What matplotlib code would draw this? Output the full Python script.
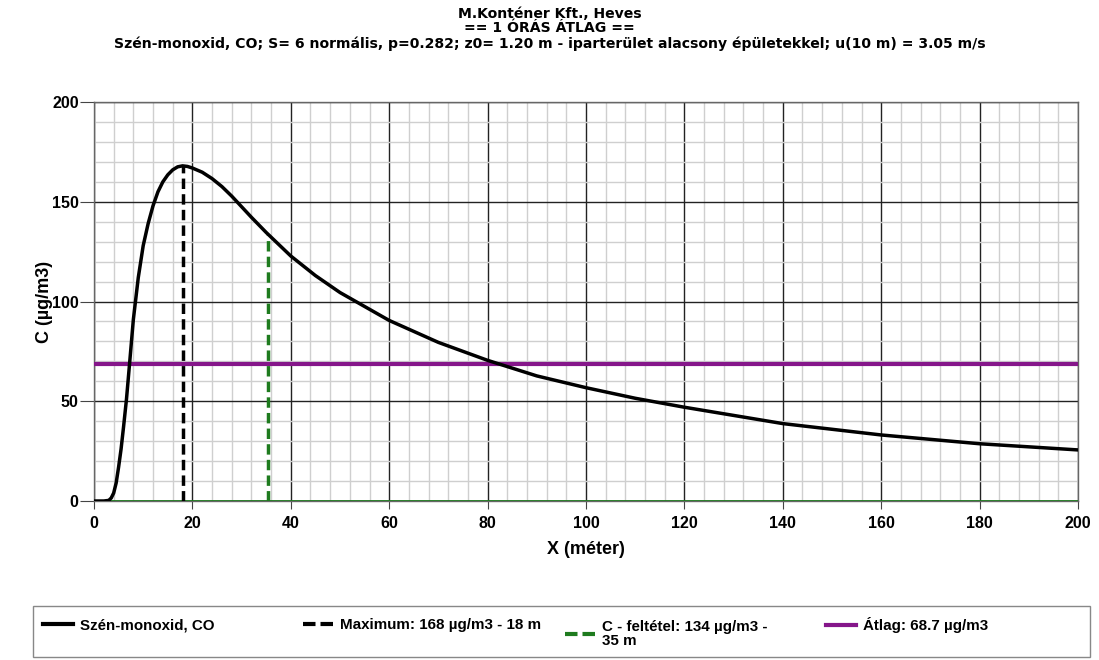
import numpy as np
import matplotlib.pyplot as plt
from matplotlib.lines import Line2D
from matplotlib.patches import Rectangle

plt.rcParams['font.family'] = ['Liberation Sans', 'DejaVu Sans']
plt.rcParams['font.weight'] = 'bold'

# concentration curve
x_m = [0, 2, 3, 3.5, 4, 4.5, 5, 5.5, 6, 6.6, 7.2, 8, 9, 10, 11, 12, 13, 14, 15, 16, 17, 18,
       19, 20, 22, 24, 26, 28, 30, 32, 35, 40, 45, 50, 55, 60, 70, 80, 90, 100, 110, 120,
       140, 160, 180, 200]
c_ug = [0, 0, 0.3, 1.5, 4, 9, 17, 26, 37, 51, 68, 91, 112, 128, 139, 148, 155, 160, 163.5, 166, 167.5, 168,
        167.7, 166.9, 164.8, 161.6, 157.6, 152.8, 147.5, 142.2, 134.6, 122.8, 113, 104.5, 97.5, 90.5, 79.5, 70.5,
        62.7, 56.8, 51.5, 47, 38.8, 33.1, 28.7, 25.6]

x_max, c_max = 18, 168
x_felt, c_felt = 35.3, 134
c_atlag = 68.7

title_lines = ["M.Konténer Kft., Heves",
               "== 1 ÓRÁS ÁTLAG ==",
               "Szén-monoxid, CO; S= 6 normális, p=0.282; z0= 1.20 m - iparterület alacsony épületekkel; u(10 m) = 3.05 m/s"]
legend_labels = ["Szén-monoxid, CO",
                 "Maximum: 168 µg/m3 - 18 m",
                 "C - feltétel: 134 µg/m3 -\n35 m",
                 "Átlag: 68.7 µg/m3"]

green = '#1e7b1e'
purple = '#85168a'
W, H = 1099, 660

fig = plt.figure(figsize=(10.99, 6.6), dpi=100)
ax = fig.add_axes([94/W, 1 - 501/H, 984/W, 399/H])

ax.set_xlim(0, 200)
ax.set_ylim(0, 200)
ax.set_xticks(np.arange(0, 201, 20))
ax.set_yticks(np.arange(0, 201, 50))
ax.set_xticks(np.arange(0, 201, 4), minor=True)
ax.set_yticks(np.arange(0, 201, 10), minor=True)
ax.grid(which='minor', color='#cfcfcf', lw=1)
ax.grid(which='major', color='#222222', lw=1)
ax.set_axisbelow(True)
ax.tick_params(which='minor', length=0)
ax.tick_params(axis='x', which='major', length=6, color='#444444', labelsize=11.5, pad=5)
ax.tick_params(axis='y', which='major', length=10, color='#444444', labelsize=11.5, pad=1)
for s in ax.spines.values():
    s.set_color('#666666')
    s.set_linewidth(1)

ax.axhline(0, color=green, lw=2, zorder=3)
ax.axhline(c_atlag, color=purple, lw=3, zorder=3)
ax.plot([x_max, x_max], [0, c_max], color='black', lw=2.5, ls=(0, (3, 1.5)), zorder=4)
ax.plot([x_felt, x_felt], [0, c_felt], color=green, lw=2.5, ls=(0, (3, 1.5)), zorder=4)
ax.plot(x_m, c_ug, color='black', lw=2.5, zorder=5, solid_capstyle='round')

ax.set_xlabel("X (méter)", fontsize=13, fontweight='bold')
ax.set_ylabel("C (µg/m3)", fontsize=13, fontweight='bold')
ax.xaxis.set_label_coords(0.5, (501 - 541) / 399)
ax.yaxis.set_label_coords((53 - 94) / 984, 0.5)

for txt, yb in zip(title_lines, [18.5, 32.5, 48]):
    fig.text(0.5, 1 - yb/H, txt, ha='center', va='baseline', fontsize=10.1,
             fontweight='bold', family=['DejaVu Sans'])

# legend box
fig.patches.append(Rectangle((33/W, 1 - 657/H), 1057/W, 51/H,
                             transform=fig.transFigure, fill=False, edgecolor='#888888', lw=1))
handles = [Line2D([], [], color='black', lw=3),
           Line2D([], [], color='black', lw=3, ls=(0, (3, 1.2))),
           Line2D([], [], color=green, lw=3, ls=(0, (3, 1.2))),
           Line2D([], [], color=purple, lw=3)]
leg_x = [43, 303, 565, 826]
leg_y = [625, 625, 634, 625]
for h, lab, lx, ly in zip(handles, legend_labels, leg_x, leg_y):
    lg = fig.legend([h], [lab], loc='center left', bbox_to_anchor=(lx/W, 1 - ly/H),
                    frameon=False, fontsize=10.9, handlelength=2.0, handletextpad=0.45,
                    borderaxespad=0, borderpad=0)
    lg.get_texts()[0].set_linespacing(1.0)

fig.savefig('out.png', dpi=100)
